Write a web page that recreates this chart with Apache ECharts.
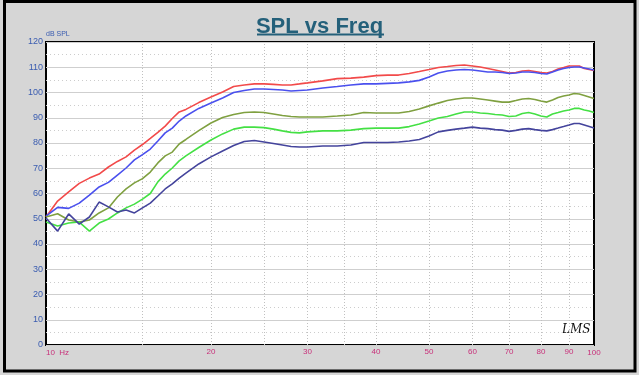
<!DOCTYPE html>
<html>
<head>
<meta charset="utf-8">
<script src="https://cdn.jsdelivr.net/npm/echarts@6/dist/echarts.min.js"></script>
<style>
html,body{margin:0;padding:0;background:#d6d6d6;}
#chart{width:639px;height:375px;}
</style>
</head>
<body>
<div id="chart"></div>
<script>
// Frequencies (Hz)
const freq = [10,10.5,11,11.5,12,12.5,13,13.5,14,14.5,15,15.5,16,16.5,17,17.5,18,19,20,21,22,23,24,25,26,27,28,29,30,32,34,36,38,40,42,44,46,48,50,52,54,56,58,60,62,64,66,68,70,72,74,76,78,80,82,84,86,88,90,92,94,96,98,100];
// SPL curves (dB)
const redSPL   = [50.7,57,60.6,64,66.1,67.7,70.5,72.7,74.5,77.2,79.4,81.8,84.2,86.7,89.7,92.3,93.3,96,98.2,100.2,102.4,103,103.4,103.4,103.2,103,103,103.4,103.8,104.6,105.5,105.7,106.1,106.7,106.9,106.9,107.5,108.3,109.1,109.9,110.3,110.7,110.9,110.5,110.1,109.5,108.9,108.3,107.7,107.9,108.5,108.7,108.3,107.9,107.7,108.3,109.3,109.9,110.5,110.5,110.5,109.5,109.1,108.7];
const blueSPL  = [51,54.5,54.1,56.2,59.4,62.6,64.4,67.3,70.1,73.3,75.4,77.6,80.8,84,85.9,88.7,90.7,93.7,95.8,97.8,100,100.8,101.4,101.4,101.2,101,100.6,100.8,101,101.8,102.4,103,103.4,103.4,103.6,103.8,104.2,104.8,106.1,107.7,108.5,108.9,109.1,108.9,108.5,108.1,108.1,107.9,107.5,107.7,108.1,108.1,107.9,107.5,107.3,108.1,108.9,109.5,109.9,110.1,110.1,109.7,109.3,108.9];
const oliveSPL = [50.7,52,49.5,48.7,49.5,52.3,54.3,58.6,61.8,64.2,65.9,68.5,72.1,74.9,76.4,79.6,81.4,84.9,87.9,90.1,91.3,92.1,92.3,92.1,91.5,90.9,90.5,90.3,90.3,90.3,90.7,91.1,92.1,91.9,91.9,91.9,92.5,93.5,94.7,95.8,96.8,97.4,97.8,97.8,97.4,97,96.6,96.2,96.2,96.8,97.4,97.6,97.2,96.6,96.2,97,98,98.6,99,99.6,99.4,98.8,98.2,97.6];
const greenSPL = [48.7,47.1,48.3,48.7,45.1,48.3,49.9,52.3,54.3,55.8,57.8,60,64.6,67.7,70.1,72.9,74.9,78.2,81.2,83.6,85.5,86.3,86.3,86.1,85.5,84.8,84.2,84,84.4,84.8,84.8,85.1,85.7,85.9,85.9,85.9,86.5,87.5,88.7,89.9,90.5,91.5,92.3,92.3,91.9,91.7,91.3,91.1,90.5,90.7,91.7,92.1,91.5,90.7,90.3,91.5,92.1,92.7,93.1,93.7,93.7,93.1,92.7,92.1];
const navySPL  = [50.3,45.1,51.9,47.9,50.7,56.6,54.7,52.7,53.5,52.3,54.3,56.2,59,61.8,63.8,66.1,68.1,71.7,74.5,76.8,79,80.6,81,80.4,79.8,79.2,78.6,78.4,78.4,78.8,78.8,79.2,80.2,80.2,80.2,80.4,80.8,81.4,82.8,84.4,85,85.5,85.9,86.3,85.9,85.7,85.3,85.1,84.6,85,85.5,85.7,85.3,85,84.8,85.3,85.9,86.5,87.1,87.7,87.7,87.1,86.5,85.9];
// Axis ticks
const xMajorTicks = [20,30,40,50,60,70,80,90];
const xMinorTicks = [15,25,35];
const yTicks = [0,10,20,30,40,50,60,70,80,90,100,110,120];

const chart = echarts.init(document.getElementById('chart'), null, {renderer:'canvas'});
const pair = arr => freq.map((f,i)=>[f,arr[i]]);
const labelColor = '#c8307a';
const gridMarks = xMajorTicks.map(v=>({xAxis:v, label:{show:true, formatter:String(v)}}))
  .concat(xMinorTicks.map(v=>({xAxis:v, label:{show:false}})));

function mkSeries(name, arr, color, extra){
  return Object.assign({
    name, type:'line', data:pair(arr), showSymbol:false, symbol:'none',
    lineStyle:{color, width:1.6}, itemStyle:{color}, z:3, silent:true, animation:false
  }, extra||{});
}

chart.setOption({
  backgroundColor:'#d6d6d6',
  animation:false,
  title:{
    text:'SPL vs Freq', left:'center', top:11,
    textStyle:{fontFamily:'Liberation Sans, Arial, sans-serif', fontSize:22, fontWeight:'bold', color:'#24607a'}
  },
  grid:{left:46, right:45, top:42, bottom:30, show:true, backgroundColor:'#ffffff', borderColor:'#000000', borderWidth:2},
  xAxis:{
    type:'log', logBase:10, min:10, max:100,
    axisLine:{show:false}, axisTick:{show:false}, splitLine:{show:false},
    axisLabel:{color:labelColor, fontSize:8, margin:4, fontFamily:'Liberation Sans, Arial, sans-serif',
      alignMinLabel:'left',
      formatter: v => (Math.round(v)===10 ? '10  Hz' : String(Math.round(v)))}
  },
  yAxis:{
    type:'value', min:yTicks[0], max:yTicks[yTicks.length-1], interval:10,
    name:'dB SPL', nameLocation:'end', nameGap:3,
    nameTextStyle:{color:'#3a5cb0', fontSize:7, align:'left', fontFamily:'Liberation Sans, Arial, sans-serif'},
    axisLine:{show:false}, axisTick:{show:false},
    axisLabel:{color:'#3a5cb0', fontSize:9, margin:3, fontFamily:'Liberation Sans, Arial, sans-serif'},
    splitLine:{show:true, lineStyle:{color:'#cfcfcf', width:1}},
    minorTick:{show:false, splitNumber:2},
    minorSplitLine:{show:true, lineStyle:{color:'#cccccc', width:1, type:[1,3]}}
  },
  series:[
    mkSeries('red', redSPL, '#f24a4a', {
      markLine:{
        silent:true, symbol:['none','none'], z:1, animation:false,
        lineStyle:{color:'#c0c0c0', width:1, type:[1,2]},
        label:{show:true, position:'start', distance:3, color:labelColor, fontSize:8, fontFamily:'Liberation Sans, Arial, sans-serif'},
        emphasis:{disabled:true},
        data:gridMarks
      }
    }),
    mkSeries('blue', blueSPL, '#4a50ee'),
    mkSeries('olive', oliveSPL, '#7fa040'),
    mkSeries('green', greenSPL, '#44e044'),
    mkSeries('navy', navySPL, '#44449c')
  ],
  graphic:[
    {type:'line', shape:{x1:257, y1:34.5, x2:384, y2:34.5}, style:{stroke:'#24607a', lineWidth:2}, silent:true},
    {type:'rect', shape:{x:4.5, y:1.5, width:630.5, height:369.5}, style:{fill:'none', stroke:'#000000', lineWidth:3}, silent:true, z:10},
    {type:'text', left:562, top:324, style:{text:'LMS', font:'italic 12px "DejaVu Serif", serif', fill:'#111111'}, silent:true}
  ]
});
</script>
</body>
</html>
